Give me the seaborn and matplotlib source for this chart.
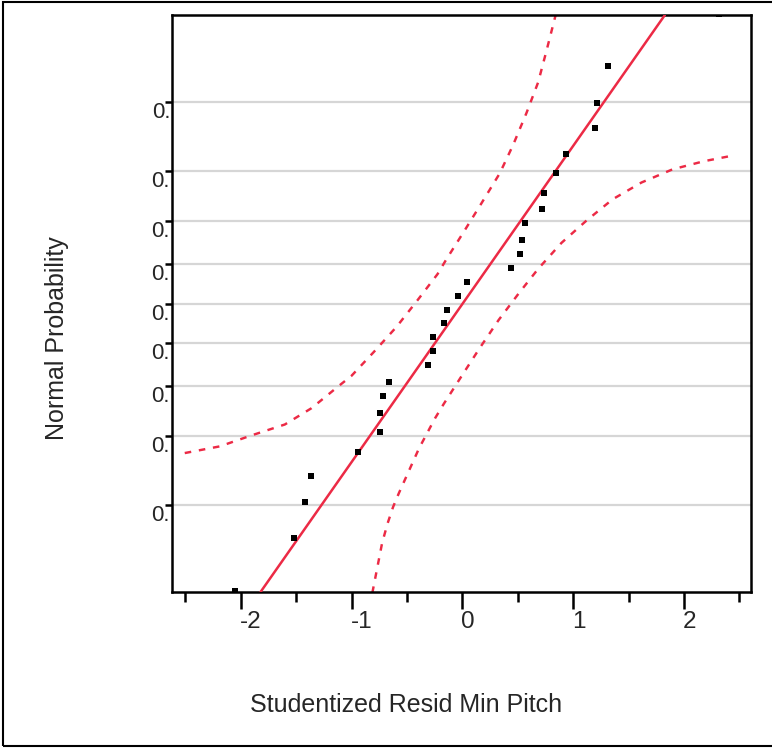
"""Normal probability plot of studentized residuals (Min Pitch)."""

from statistics import NormalDist

import matplotlib

matplotlib.use("Agg")
import matplotlib.pyplot as plt
import numpy as np
import seaborn as sns
from matplotlib.patches import Rectangle
from matplotlib.transforms import Bbox, ScaledTranslation, TransformedBbox

# sorted studentized residuals and their normal probabilities
resid = [-2.051, -1.521, -1.419, -1.370, -0.946, -0.741, -0.740, -0.715,
         -0.663, -0.314, -0.265, -0.264, -0.164, -0.137, -0.038, 0.038,
         0.440, 0.516, 0.540, 0.564, 0.715, 0.738, 0.841, 0.940, 1.193,
         1.217, 1.316, 2.320]
prob = [0.034, 0.068, 0.104, 0.136, 0.173, 0.207, 0.244, 0.279, 0.309,
        0.347, 0.381, 0.415, 0.450, 0.484, 0.520, 0.555, 0.590, 0.624,
        0.657, 0.696, 0.725, 0.759, 0.797, 0.829, 0.867, 0.899, 0.934, 0.967]

# fitted normal line (end points at the axis limits)
fit_resid = [-1.821, 1.828]
fit_prob = [0.0334, 0.9666]

# confidence band
band_hi_resid = [-2.505, -2.189, -1.903, -1.602, -1.361, -1.121, -1.000, -0.799,
                 -0.594, -0.408, -0.224, -0.143, 0.014, 0.173, 0.338, 0.458,
                 0.579, 0.684, 0.760, 0.844]
band_hi_prob = [0.171, 0.182, 0.201, 0.221, 0.253, 0.299, 0.323, 0.379,
                0.441, 0.507, 0.574, 0.611, 0.676, 0.738, 0.796, 0.843,
                0.887, 0.920, 0.946, 0.967]
band_lo_resid = [-0.812, -0.724, -0.675, -0.625, -0.573, -0.390, -0.246, -0.167,
                 -0.005, 0.158, 0.327, 0.510, 0.684, 0.895, 1.121, 1.356,
                 1.617, 1.897, 2.180, 2.459]
band_lo_prob = [0.033, 0.064, 0.081, 0.098, 0.114, 0.179, 0.233, 0.262,
                0.323, 0.389, 0.458, 0.526, 0.587, 0.650, 0.701, 0.746,
                0.779, 0.803, 0.817, 0.827]

grid_prob = [0.1, 0.2, 0.3, 0.4, 0.5, 0.6, 0.7, 0.8, 0.9]
grid_labels = ["0.1", "0.2", "0.3", "0.4", "0.5", "0.6", "0.7", "0.8", "0.9"]
x_ticks = [-2, -1, 0, 1, 2]
x_minor = [-2.5, -1.5, -0.5, 0.5, 1.5, 2.5]

RED = "#ec2a45"
GRID = "#d6d6d6"

_nd = NormalDist()
_ppf = np.vectorize(lambda p: _nd.inv_cdf(min(max(p, 1e-9), 1 - 1e-9)), otypes=[float])
_cdf = np.vectorize(_nd.cdf, otypes=[float])


def probit(p):
    return _ppf(np.asarray(p, dtype=float))


def inv_probit(z):
    return _cdf(np.asarray(z, dtype=float))


sns.set_style("ticks")
plt.rcParams["font.family"] = ["Liberation Sans", "DejaVu Sans"]
plt.rcParams["axes.unicode_minus"] = False

W, H = 772, 750
fig = plt.figure(figsize=(W / 100, H / 100), dpi=100)
ax = fig.add_axes([172 / W, 1 - 592 / H, (751 - 172) / W, (592 - 15) / H])

ax.set_yscale("function", functions=(probit, inv_probit))

for p in grid_prob:
    ax.axhline(p, color=GRID, lw=1.6, zorder=0)

dash = (0, (2.7, 3.2))
sns.lineplot(x=band_hi_resid, y=band_hi_prob, sort=False, estimator=None, ax=ax,
             color=RED, lw=1.75, linestyle=dash, zorder=2)
sns.lineplot(x=band_lo_resid, y=band_lo_prob, sort=False, estimator=None, ax=ax,
             color=RED, lw=1.75, linestyle=dash, zorder=2)
sns.lineplot(x=fit_resid, y=fit_prob, sort=False, estimator=None, ax=ax,
             color=RED, lw=1.8, zorder=3)
sns.scatterplot(x=resid, y=prob, ax=ax, marker="s", s=17, color="black",
                linewidth=0, zorder=4)

ax.set_xlim(-2.62, 2.605)
ax.set_ylim(0.0334, 0.9666)

ax.set_xticks(x_ticks)
ax.set_xticks(x_minor, minor=True)
ax.set_yticks(grid_prob, labels=grid_labels)
ax.yaxis.set_minor_locator(matplotlib.ticker.NullLocator())

for side in ["left", "right", "top", "bottom"]:
    ax.spines[side].set_visible(True)
    ax.spines[side].set_color("black")
    ax.spines[side].set_linewidth(1.8)

ax.tick_params(axis="x", which="major", direction="out", length=12, width=1.8,
               labelsize=17.5, pad=2, color="black")
ax.tick_params(axis="x", which="minor", direction="out", length=7, width=1.8,
               color="black")
ax.tick_params(axis="y", which="major", direction="out", length=5, width=1.8,
               labelsize=16, pad=-12.5, color="black")

# x labels start at the tick rather than centring on it
shift = ScaledTranslation(-1 / 100, 0, fig.dpi_scale_trans)
for lab in ax.get_xticklabels():
    lab.set_horizontalalignment("left")
    lab.set_transform(lab.get_transform() + shift)

# y labels are cut off by the plot frame, only "0." stays visible
clip = TransformedBbox(Bbox([[0, 0], [169.5 / W, 1]]), fig.transFigure)
for lab in ax.get_yticklabels():
    lab.set_verticalalignment("top")
    lab.set_clip_box(clip)
    lab.set_clip_on(True)

ax.set_xlabel("Studentized Resid Min Pitch", fontsize=18)
ax.set_ylabel("Normal Probability", fontsize=18)
ax.xaxis.set_label_coords((406 - 172) / 579, -(705 - 592) / 577)
ax.xaxis.label.set_verticalalignment("center")
ax.yaxis.set_label_coords((57 - 172) / 579, 0.44)
ax.yaxis.label.set_verticalalignment("center")

fig.add_artist(Rectangle((3 / W, 1 - 746 / H), 1.2, (746 - 2) / H,
                         transform=fig.transFigure, fill=False,
                         edgecolor="black", lw=1.5))

fig.savefig("out.png", dpi=100)
